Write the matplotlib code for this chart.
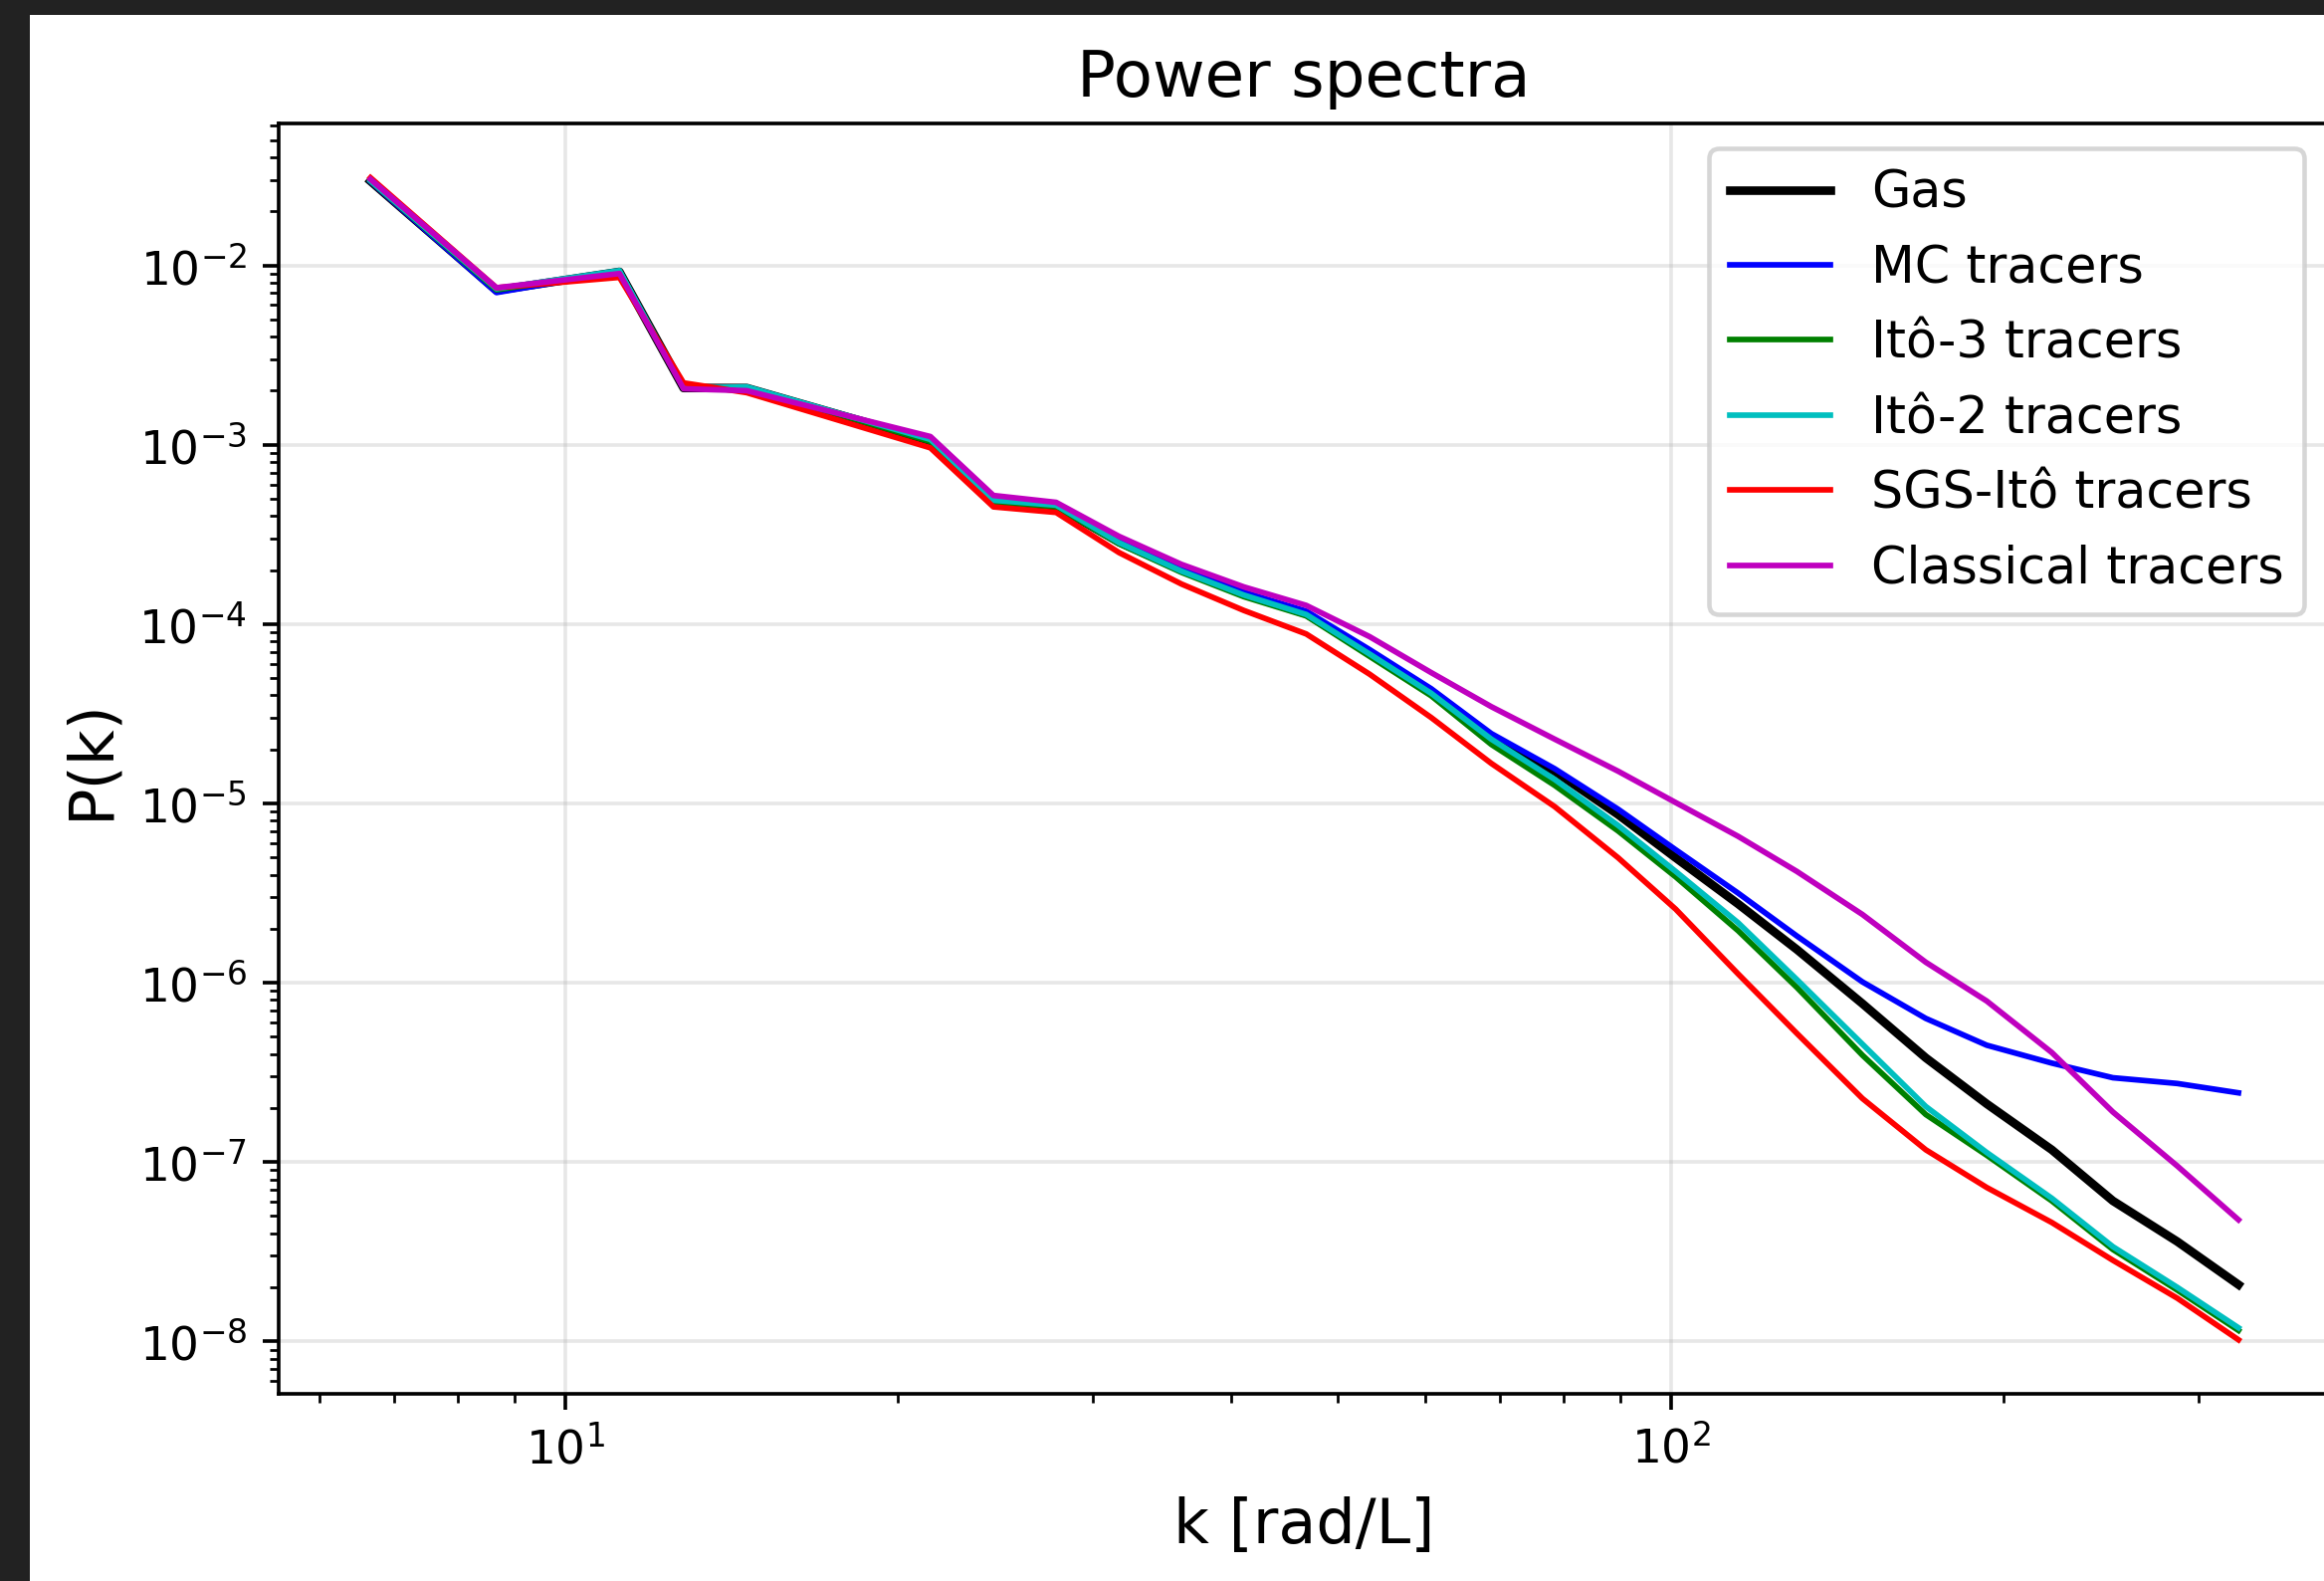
import matplotlib
matplotlib.use("Agg")
import matplotlib.pyplot as plt
from matplotlib.patches import Rectangle

# binned wavenumbers [rad/L]
k = [6.67, 8.67, 11.2, 12.8, 14.6, 21.4, 24.4, 27.8, 31.7, 36.1, 41.1, 46.8,
     53.4, 60.7, 68.8, 78.5, 89.6, 101, 115, 130, 149, 170, 193, 221, 251,
     287, 326]

gas = [2.95e-2, 7.25e-3, 9.2e-3, 2.07e-3, 2.07e-3, 1.05e-3, 4.85e-4, 4.55e-4,
       2.86e-4, 2.0e-4, 1.47e-4, 1.14e-4, 6.9e-5, 4.17e-5, 2.36e-5, 1.51e-5,
       8.65e-6, 4.97e-6, 2.75e-6, 1.53e-6, 7.64e-7, 3.81e-7, 2.11e-7, 1.17e-7,
       6.07e-8, 3.6e-8, 2.07e-8]
mc = [2.93e-2, 7.05e-3, 9.2e-3, 2.07e-3, 2.08e-3, 1.06e-3, 4.9e-4, 4.6e-4,
      2.9e-4, 2.02e-4, 1.5e-4, 1.18e-4, 7.2e-5, 4.36e-5, 2.45e-5, 1.56e-5,
      9.27e-6, 5.51e-6, 3.16e-6, 1.82e-6, 1.01e-6, 6.32e-7, 4.48e-7, 3.56e-7,
      2.95e-7, 2.74e-7, 2.43e-7]
ito3 = [2.95e-2, 7.3e-3, 9.25e-3, 2.07e-3, 2.08e-3, 1.04e-3, 4.8e-4, 4.5e-4,
        2.8e-4, 1.94e-4, 1.42e-4, 1.11e-4, 6.6e-5, 3.98e-5, 2.13e-5, 1.26e-5,
        7.01e-6, 3.89e-6, 1.95e-6, 9.4e-7, 3.94e-7, 1.84e-7, 1.09e-7, 6.07e-8,
        3.25e-8, 1.93e-8, 1.15e-8]
ito2 = [2.96e-2, 7.4e-3, 9.35e-3, 2.07e-3, 2.1e-3, 1.07e-3, 4.9e-4, 4.6e-4,
        2.84e-4, 1.97e-4, 1.45e-4, 1.13e-4, 6.8e-5, 4.11e-5, 2.28e-5, 1.36e-5,
        7.53e-6, 4.17e-6, 2.16e-6, 1.04e-6, 4.54e-7, 2.04e-7, 1.13e-7, 6.28e-8,
        3.37e-8, 2.0e-8, 1.19e-8]
sgs = [3.08e-2, 7.5e-3, 8.57e-3, 2.21e-3, 1.95e-3, 9.6e-4, 4.5e-4, 4.19e-4,
       2.5e-4, 1.67e-4, 1.19e-4, 8.8e-5, 5.25e-5, 3.01e-5, 1.67e-5, 9.59e-6,
       4.97e-6, 2.57e-6, 1.12e-6, 5.21e-7, 2.26e-7, 1.17e-7, 7.21e-8, 4.6e-8,
       2.83e-8, 1.74e-8, 1.02e-8]
classical = [3.02e-2, 7.5e-3, 9.0e-3, 2.05e-3, 2.0e-3, 1.11e-3, 5.21e-4,
             4.77e-4, 3.08e-4, 2.15e-4, 1.61e-4, 1.27e-4, 8.5e-5, 5.36e-5,
             3.46e-5, 2.28e-5, 1.51e-5, 1.01e-5, 6.55e-6, 4.17e-6, 2.4e-6,
             1.3e-6, 7.9e-7, 4.08e-7, 1.9e-7, 9.5e-8, 4.76e-8]

labels = ["Gas", "MC tracers", "Itô-3 tracers", "Itô-2 tracers",
          "SGS-Itô tracers", "Classical tracers"]
series = [gas, mc, ito3, ito2, sgs, classical]
colors = ["k", "b", "g", "c", "r", "m"]
widths = [1.9, 1.25, 1.25, 1.25, 1.25, 1.25]

W, H, DPI = 2335, 1588, 327
fig = plt.figure(figsize=((W + 0.5) / DPI, (H + 0.5) / DPI), dpi=DPI)
fig.patch.set_facecolor("#222222")
# white page inside the dark frame
fig.add_artist(Rectangle((30 / W, 0), 1, (H - 15) / H, transform=fig.transFigure,
                         facecolor="white", edgecolor="none", zorder=-5))

ax = fig.add_axes([280 / W, 188 / H, 2060 / W, 1276 / H])
ax.set_facecolor("white")

for y, lab, c, lw in zip(series, labels, colors, widths):
    ax.plot(k, y, color=c, linewidth=lw, label=lab)

ax.set_xscale("log")
ax.set_yscale("log")
ax.set_xlim(5.51, 394)
ax.set_ylim(5.1e-9, 6.22e-2)

ax.set_title("Power spectra", fontsize=14.2)
ax.set_xlabel("k [rad/L]", fontsize=13.65, labelpad=5)
ax.set_ylabel("P(k)", fontsize=13.65)
ax.tick_params(axis="both", which="major", labelsize=10.35)

ax.grid(alpha=0.3)
ax.legend(loc="upper right", fontsize=11.2)

fig.savefig("out.png", dpi=DPI, facecolor=fig.get_facecolor())
